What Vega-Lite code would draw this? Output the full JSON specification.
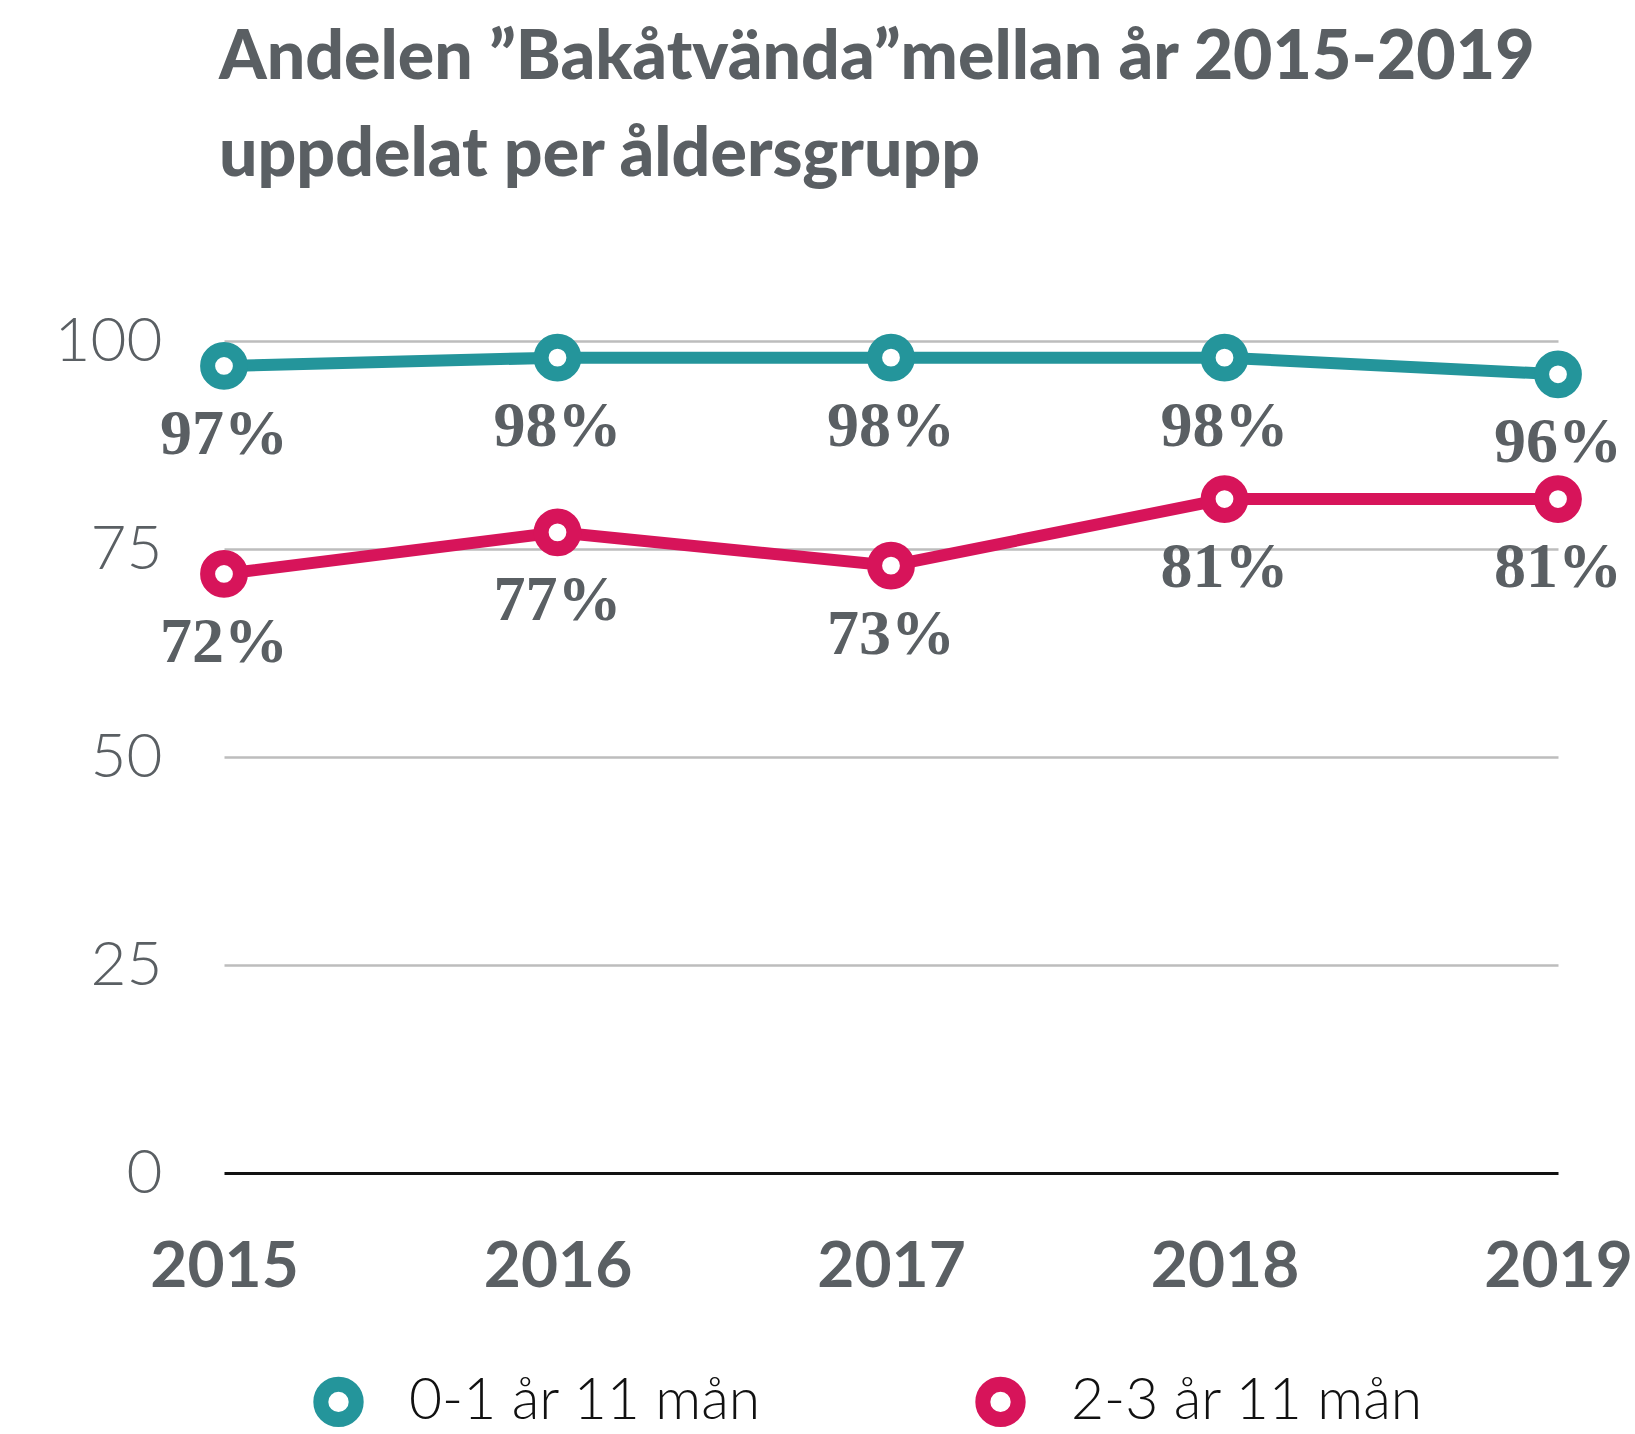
{
  "$schema": "https://vega.github.io/schema/vega-lite/v6.json",
  "autosize": "none",
  "width": 1334,
  "height": 832,
  "padding": {"left": 224, "top": 341, "right": 77, "bottom": 261},
  "background": "white",
  "config": {"view": {"stroke": null}},
  "title": {
    "text": ["Andelen ”Bakåtvända”mellan år 2015-2019", "uppdelat per åldersgrupp"],
    "anchor": "start",
    "frame": "group",
    "font": "Lato",
    "fontWeight": 900,
    "fontSize": 68,
    "lineHeight": 97,
    "color": "#5a5f63",
    "dx": -5,
    "offset": 120
  },
  "data": {
    "values": [
      {"year": "2015", "group": "0-1 år 11 mån", "value": 97, "label": "97%"},
      {"year": "2016", "group": "0-1 år 11 mån", "value": 98, "label": "98%"},
      {"year": "2017", "group": "0-1 år 11 mån", "value": 98, "label": "98%"},
      {"year": "2018", "group": "0-1 år 11 mån", "value": 98, "label": "98%"},
      {"year": "2019", "group": "0-1 år 11 mån", "value": 96, "label": "96%"},
      {"year": "2015", "group": "2-3 år 11 mån", "value": 72, "label": "72%"},
      {"year": "2016", "group": "2-3 år 11 mån", "value": 77, "label": "77%"},
      {"year": "2017", "group": "2-3 år 11 mån", "value": 73, "label": "73%"},
      {"year": "2018", "group": "2-3 år 11 mån", "value": 81, "label": "81%"},
      {"year": "2019", "group": "2-3 år 11 mån", "value": 81, "label": "81%"}
    ]
  },
  "encoding": {
    "x": {
      "field": "year",
      "type": "ordinal",
      "scale": {"type": "point", "padding": 0},
      "axis": {
        "title": null,
        "labelAngle": 0,
        "domain": false,
        "ticks": false,
        "labelPadding": 62,
        "labelFont": "Lato",
        "labelFontWeight": 700,
        "labelFontSize": 64,
        "labelColor": "#5a5f63",
        "labelBaseline": "top",
        "labelFlush": false
      }
    },
    "y": {
      "field": "value",
      "type": "quantitative",
      "scale": {"domain": [0, 100], "nice": false},
      "axis": {
        "title": null,
        "values": [0, 25, 50, 75, 100],
        "domain": false,
        "ticks": false,
        "labelPadding": 62,
        "labelFont": "Lato",
        "labelFontWeight": 300,
        "labelFontSize": 62,
        "labelColor": "#5a5f63",
        "grid": true,
        "gridColor": {"condition": {"test": "datum.value === 0", "value": "#111111"}, "value": "#bdbdbd"},
        "gridWidth": {"condition": {"test": "datum.value === 0", "value": 3}, "value": 2.5}
      }
    }
  },
  "layer": [
    {
      "mark": {"type": "line", "strokeWidth": 12},
      "encoding": {
        "stroke": {
          "field": "group",
          "type": "nominal",
          "scale": {"domain": ["0-1 år 11 mån", "2-3 år 11 mån"], "range": ["#24959b", "#d7145a"]},
          "legend": {
            "title": null,
            "orient": "none",
            "direction": "horizontal",
            "legendX": 86,
            "legendY": 1032,
            "padding": 0,
            "symbolType": "circle",
            "symbolSize": 1250,
            "symbolStrokeWidth": 15,
            "symbolFillColor": "white",
            "labelFont": "Lato",
            "labelFontWeight": 300,
            "labelFontSize": 57,
            "labelColor": "#111111",
            "labelOffset": 42,
            "columnPadding": 190,
            "labelLimit": 600
          }
        }
      }
    },
    {
      "mark": {"type": "point", "filled": false, "fill": "white", "size": 1075, "strokeWidth": 15, "opacity": 1},
      "encoding": {
        "stroke": {"field": "group", "type": "nominal"}
      }
    },
    {
      "mark": {"type": "text", "font": "Liberation Serif", "fontWeight": "bold", "fontSize": 64, "color": "#5a5f63", "baseline": "alphabetic", "dy": 88},
      "encoding": {
        "text": {"field": "label", "type": "nominal"},
        "detail": {"field": "group"}
      }
    }
  ]
}
